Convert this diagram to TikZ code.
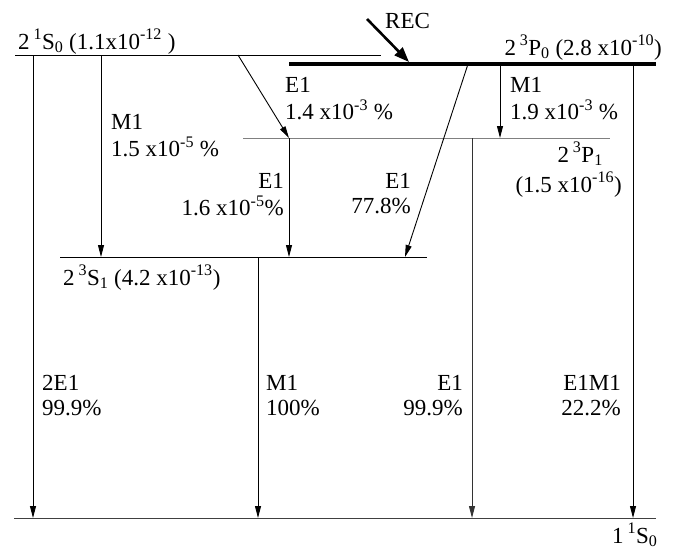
\documentclass[tikz,border=0pt]{standalone}
\usepackage{fontspec}
\setmainfont{Liberation Serif}
\usetikzlibrary{arrows.meta}
\newcommand{\sps}[1]{\textsuperscript{#1}}
\newcommand{\sbs}[1]{\textsubscript{#1}}
\begin{document}
\begin{tikzpicture}[x=1pt,y=-1pt,
  lvl/.style={line width=0.9pt},
  tr/.style={line width=0.9pt,-{Triangle[length=12pt,width=6pt]}},
  lab/.style={inner sep=0pt,font=\fontsize{23}{25}\selectfont}]
\useasboundingbox (0,0) rectangle (690,552);
% levels
\coordinate (s0l) at (15,55);  \coordinate (s0r) at (381,55);
\coordinate (p0l) at (289,64); \coordinate (p0r) at (656,64);
\coordinate (p1l) at (243,138); \coordinate (p1r) at (610,138);
\coordinate (s1l) at (60,257); \coordinate (s1r) at (427,257);
\coordinate (gl) at (14,518); \coordinate (gr) at (656,518);
\draw[lvl] (s0l) -- (s0r);
\draw[line width=3.5pt] (p0l) -- (p0r);
\draw[lvl,gray] (p1l) -- (p1r);
\draw[lvl] (s1l) -- (s1r);
\draw[lvl,black!75] (gl) -- (gr);
% transition endpoints
\coordinate (a1) at (33,55);   \coordinate (b1) at (33,518);
\coordinate (a2) at (101,55);  \coordinate (b2) at (101,257);
\coordinate (a3) at (238,55);  \coordinate (b3) at (289,138);
\coordinate (a4) at (289,138); \coordinate (b4) at (289,257);
\coordinate (a5) at (468,64);  \coordinate (b5) at (405,257);
\coordinate (a6) at (500,64);  \coordinate (b6) at (500,138);
\coordinate (a7) at (633,64);  \coordinate (b7) at (633,518);
\coordinate (a8) at (258,257); \coordinate (b8) at (258,518);
\coordinate (a9) at (472,138); \coordinate (b9) at (472,518);
\coordinate (r1) at (367,19);  \coordinate (r2) at (409,62);
\draw[tr] (a1) -- (b1);
\draw[tr] (a2) -- (b2);
\draw[tr] (a3) -- (b3);
\draw[tr] (a4) -- (b4);
\draw[tr] (a5) -- (b5);
\draw[tr] (a6) -- (b6);
\draw[tr] (a7) -- (b7);
\draw[tr] (a8) -- (b8);
\draw[tr,black!80] (a9) -- (b9);
\draw[line width=2.6pt,-{Triangle[length=15pt,width=11pt]}] (r1) -- (r2);
% labels
\node[lab,anchor=base west] (rec) at (385,28) {REC};
\node[lab,anchor=base west] (ls0) at (18,49) {2\,\sps{1}S\sbs{0} (1.1x10\sps{-12} )};
\node[lab,anchor=base east] (lp0) at (662,55) {2\,\sps{3}P\sbs{0} (2.8 x10\sps{-10})};
\node[lab,anchor=base east] (lp1a) at (603,162) {2\,\sps{3}P\sbs{1}};
\node[lab,anchor=base east] (lp1b) at (622,192) {(1.5 x10\sps{-16})};
\node[lab,anchor=base west] (ls1) at (63,285) {2\,\sps{3}S\sbs{1} (4.2 x10\sps{-13})};
\node[lab,anchor=base west] (lg) at (612,543) {1\,\sps{1}S\sbs{0}};
\node[lab,anchor=base west] (t3) at (285,92) {\begin{tabular}[t]{@{}l@{}}E1\\1.4 x10\sps{-3} \%\end{tabular}};
\node[lab,anchor=base west] (t6) at (510,92) {\begin{tabular}[t]{@{}l@{}}M1\\1.9 x10\sps{-3} \%\end{tabular}};
\node[lab,anchor=base west] (t2) at (111,129) {\begin{tabular}[t]{@{}l@{}}M1\\1.5 x10\sps{-5} \%\end{tabular}};
\node[lab,anchor=base east] (t4) at (284,188) {\begin{tabular}[t]{@{}r@{}}E1\\1.6 x10\sps{-5}\%\end{tabular}};
\node[lab,anchor=base east] (t5) at (411,188) {\begin{tabular}[t]{@{}r@{}}E1\\77.8\%\end{tabular}};
\node[lab,anchor=base west] (t1) at (42,390) {\begin{tabular}[t]{@{}l@{}}2E1\\99.9\%\end{tabular}};
\node[lab,anchor=base west] (t8) at (266,390) {\begin{tabular}[t]{@{}l@{}}M1\\100\%\end{tabular}};
\node[lab,anchor=base east] (t9) at (463,390) {\begin{tabular}[t]{@{}r@{}}E1\\99.9\%\end{tabular}};
\node[lab,anchor=base east] (t7) at (621,390) {\begin{tabular}[t]{@{}r@{}}E1M1\\22.2\%\end{tabular}};
\end{tikzpicture}
\end{document}
